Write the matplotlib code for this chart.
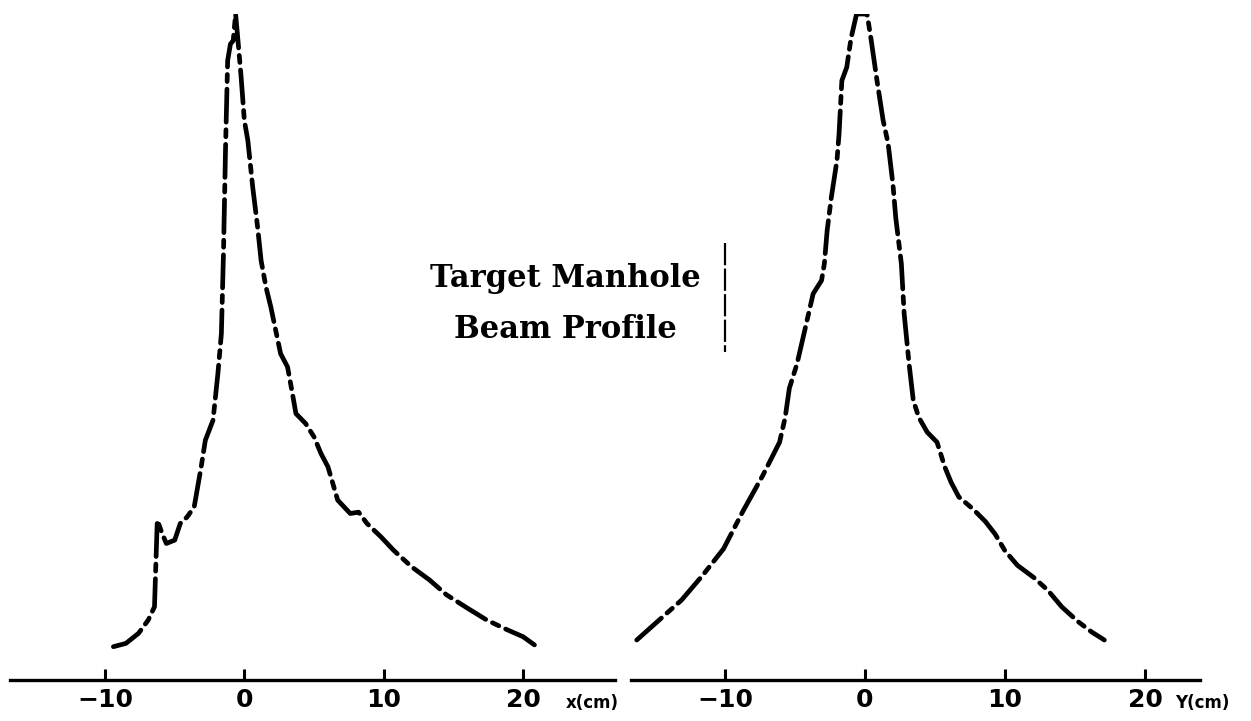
import matplotlib.pyplot as plt
from matplotlib.lines import Line2D

# horizontal profile x (cm) and relative intensity
x_pos = [-9.4, -8.5, -7.6, -6.9, -6.45, -6.25, -5.9, -5.6, -5.0, -4.6, -4.1, -3.6,
         -3.35, -3.1, -2.8, -2.25, -1.9, -1.65, -1.5, -1.35, -1.2, -1.0, -0.8, -0.63,
         -0.5, -0.25, 0.0, 0.25, 0.6, 0.95, 1.2, 1.55, 1.9, 2.3, 2.6, 3.1, 3.45, 3.7,
         4.4, 5.0, 5.5, 6.0, 6.7, 7.6, 8.2, 8.8, 9.8, 10.7, 12.0, 13.3, 14.5, 16.0,
         17.4, 18.8, 20.0, 21.0]
x_int = [0.05, 0.055, 0.07, 0.09, 0.11, 0.24, 0.22, 0.205, 0.21, 0.235, 0.245, 0.26,
         0.29, 0.32, 0.36, 0.39, 0.46, 0.52, 0.64, 0.8, 0.93, 0.955, 0.96, 1.0,
         0.97, 0.91, 0.84, 0.81, 0.74, 0.68, 0.63, 0.59, 0.56, 0.52, 0.49, 0.47, 0.43, 0.40,
         0.385, 0.365, 0.34, 0.32, 0.27, 0.25, 0.252, 0.235, 0.215, 0.195, 0.17, 0.15, 0.128, 0.108,
         0.09, 0.076, 0.065, 0.05]

# vertical profile y (cm) and relative intensity
y_pos = [-16.3, -14.7, -13.1, -11.6, -10.1, -8.7, -7.3, -6.1, -5.7, -5.4, -4.85, -4.3,
         -3.7, -3.1, -2.9, -2.7, -2.4, -2.0, -1.85, -1.65, -1.3, -1.0, -0.6, 0.15,
         0.43, 0.86, 1.3, 1.65, 2.0, 2.2, 2.6, 2.8, 3.15, 3.45, 3.85, 4.45, 5.15, 5.7,
         6.15, 6.7, 7.7, 8.6, 9.3, 10.0, 10.9, 12.05, 13.05, 14.05, 15.2, 16.2, 17.1]
y_int = [0.06, 0.09, 0.12, 0.157, 0.197, 0.254, 0.307, 0.357, 0.394, 0.438, 0.475, 0.525,
         0.58, 0.60, 0.625, 0.675, 0.725, 0.78, 0.82, 0.90, 0.92, 0.963, 1.0, 1.0,
         0.963, 0.90, 0.84, 0.806, 0.744, 0.694, 0.625, 0.55, 0.475, 0.42, 0.394, 0.372, 0.357, 0.32,
         0.297, 0.275, 0.257, 0.238, 0.219, 0.194, 0.172, 0.154, 0.135, 0.11, 0.088, 0.072, 0.06]

ticks = [-10, 0, 10, 20]
tick_labels = ['\u221210', '0', '10', '20']

fig = plt.figure(figsize=(12.51, 7.21), dpi=100)
fig.patch.set_facecolor('white')

ax1 = fig.add_axes([10 / 1251, 41 / 721, 605 / 1251, 666 / 721])
ax2 = fig.add_axes([631 / 1251, 41 / 721, 569 / 1251, 666 / 721])

panels = [
    (ax1, x_pos, x_int, (-16.82, 26.6), 'x(cm)', 31),
    (ax2, y_pos, y_int, (-16.71, 23.93), 'Y(cm)', 22),
]

for ax, pos, inten, xlim, unit, off in panels:
    ax.plot(pos, inten, color='black', lw=3.4, solid_capstyle='round',
            dash_capstyle='round', linestyle=(0, (7, 1.6, 1.5, 1.6)))
    ax.set_xlim(*xlim)
    ax.set_ylim(0, 1.0)
    for side in ['top', 'left', 'right']:
        ax.spines[side].set_visible(False)
    ax.spines['bottom'].set_linewidth(2.4)
    ax.set_yticks([])
    ax.set_xticks(ticks)
    ax.set_xticklabels(tick_labels, fontsize=18, fontweight='bold')
    ax.tick_params(axis='x', direction='in', length=8, width=2.2, pad=6)
    ax.annotate(unit, xy=(20, 0), xycoords=('data', 'axes fraction'),
                xytext=(off, -20), textcoords='offset points',
                fontsize=12, fontweight='bold', ha='left', va='baseline')
    ax.patch.set_alpha(0)

# caption in the middle
fig.text(565 / 1251, 1 - 278 / 721, 'Target Manhole', family='DejaVu Serif',
         fontsize=22, fontweight='bold', ha='center', va='center')
fig.text(565 / 1251, 1 - 329 / 721, 'Beam Profile', family='DejaVu Serif',
         fontsize=22, fontweight='bold', ha='center', va='center')
fig.add_artist(Line2D([725 / 1251, 725 / 1251], [1 - 243 / 721, 1 - 352 / 721],
                      transform=fig.transFigure, color='black', lw=1.6,
                      linestyle=(0, (10, 1.5))))

fig.savefig('out.png', dpi=100)
